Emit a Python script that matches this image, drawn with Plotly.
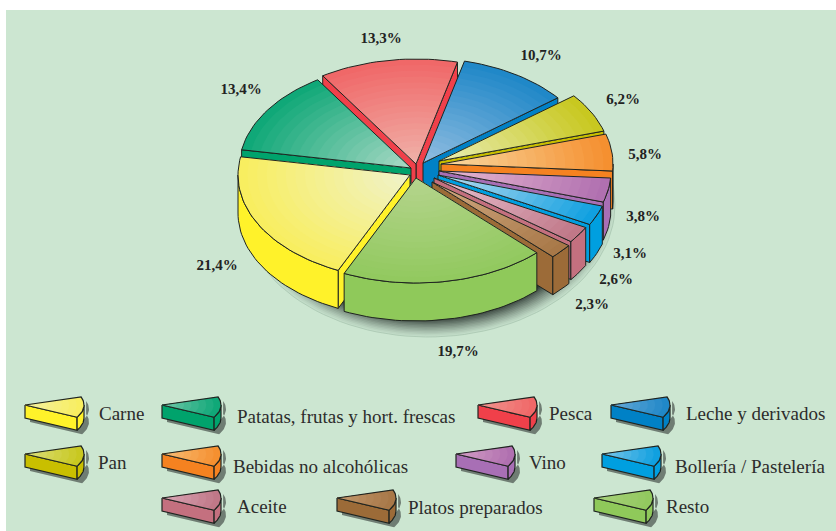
import math
import plotly.graph_objects as go

# ---- data (clockwise reading round the pie, starting at the left edge) ----
categories = ["Carne", "Resto", "Platos preparados", "Aceite", "Bollería / Pastelería", "Vino",
              "Bebidas no alcohólicas", "Pan", "Leche y derivados", "Pesca", "Patatas, frutas y hort. frescas"]
values = [21.4, 19.7, 2.3, 2.6, 3.1, 3.8, 5.8, 6.2, 10.7, 13.3, 13.4]

# ---- styles ----
side_colors = ["#fff22a", "#8fc95a", "#9c6b38", "#c4707f", "#009fe0", "#a86fb5",
               "#f58220", "#c9bf00", "#0081c6", "#f0404a", "#00a36c"]
rim_colors = ["#f8ee60", "#92c95f", "#a87848", "#c07888", "#10a0e0", "#b070b0",
              "#f59030", "#c8c820", "#2088c8", "#f06868", "#10a878"]
center_colors = ["#f0f2c8", "#b4d48c", "#d0a880", "#e8c0d0", "#b8dcf0", "#e8b8d0",
                 "#f8d8a0", "#e8ecb0", "#90bce0", "#f0b0a8", "#a8d8c4"]

# ---- layout constants (screen pixels) ----
W, H = 836, 531
BG = "#cce6d1"
RX, RY, DEPTH = 172, 105, 38
START_ANGLE = 190
apex_x = [410, 416, 432, 434, 438, 439, 441, 439, 423, 416, 411]
apex_y = [175, 178, 182, 178, 175, 171, 164, 161, 163, 164, 168]
paint_order = [9, 8, 10, 7, 6, 5, 4, 3, 2, 0, 1]
label_x = [217, 458, 592, 616, 630, 643, 645, 623, 541, 381, 241]
label_y = [266, 352, 305, 280, 254, 217, 155, 100, 56, 39, 90]
legend_pos = {  # swatch left, swatch apex y, text left, text y
    "Carne": (25, 405, 99, 415),
    "Patatas, frutas y hort. frescas": (162, 405, 237, 418),
    "Pesca": (478, 405, 549, 415),
    "Leche y derivados": (611, 405, 686, 415),
    "Pan": (25, 454, 98, 464),
    "Bebidas no alcohólicas": (162, 454, 233, 468),
    "Vino": (456, 454, 529, 464),
    "Bollería / Pastelería": (602, 454, 675, 468),
    "Aceite": (162, 498, 237, 508),
    "Platos preparados": (337, 498, 408, 509),
    "Resto": (594, 498, 666, 508),
}
OUTLINE = "#1f2420"


def rgb(h):
    return tuple(int(h[i:i + 2], 16) for i in (1, 3, 5))


def mix(a, b, t):
    ca, cb = rgb(a), rgb(b)
    return "rgb(%d,%d,%d)" % tuple(round(x + (y - x) * t) for x, y in zip(ca, cb))


fig = go.Figure()


def poly(xs, ys, fill=None, line=None, width=1.0):
    fig.add_trace(go.Scatter(
        x=list(xs) + [xs[0]], y=list(ys) + [ys[0]], mode="lines",
        fill="toself" if fill else "none", fillcolor=fill,
        line=dict(color=line or "rgba(0,0,0,0)", width=width if line else 0),
        hoverinfo="skip", showlegend=False))


def arc(cx, cy, rx, ry, a0, a1, n=None):
    n = n or max(2, int(abs(a0 - a1) / 2) + 2)
    angs = [math.radians(a0 + (a1 - a0) * i / (n - 1)) for i in range(n)]
    return [cx + rx * math.cos(a) for a in angs], [cy + ry * math.sin(a) for a in angs]


def wedge(cx, cy, rx, ry, depth, a0, a1, side, rim, center, steps, lw=1.0, pale=1.0):
    ax, ay = arc(cx, cy, rx, ry, a0, a1)
    # visible cut faces
    if math.cos(math.radians(a0)) > 0:
        poly([cx, ax[0], ax[0], cx], [cy, ay[0], ay[0] + depth, cy + depth], side, OUTLINE, lw)
    if math.cos(math.radians(a1)) < 0:
        poly([cx, ax[-1], ax[-1], cx], [cy, ay[-1], ay[-1] + depth, cy + depth], side, OUTLINE, lw)
    # outer wall (front half of the ellipse only)
    hi, lo = min(a0, 180), max(a1, 0)
    if hi > lo:
        sx, sy = arc(cx, cy, rx, ry, hi, lo)
        poly(sx + sx[::-1], sy + [y + depth for y in sy[::-1]], side, OUTLINE, lw)
    # top face, shaded from the rim to the apex by nested copies
    for i in range(steps):
        t = 1 - i / steps
        xs = [cx] + [cx + t * (x - cx) for x in ax]
        ys = [cy] + [cy + t * (y - cy) for y in ay]
        poly(xs, ys, mix(rim, center, pale * i / max(1, steps - 1)))
    poly([cx] + ax, [cy] + ay, None, OUTLINE, lw)


# soft shadow under the pie
shadow_steps = 14
for i in range(shadow_steps):
    s = 1 - 0.14 * i / (shadow_steps - 1)
    sx, sy = arc(428, 205, 187 * s, 132 * s, 0, 360, 120)
    poly(sx, sy, mix("#c2dcc8", "#2f3a34", (i / (shadow_steps - 1)) ** 1.2),
         "#a9c6b1" if i == 0 else None, 0.8)

# pie slices
total = sum(values)
angles = []
a = START_ANGLE
for v in values:
    angles.append((a, a - v / total * 360))
    a -= v / total * 360

for k in paint_order:
    wedge(apex_x[k], apex_y[k], RX, RY, DEPTH, angles[k][0], angles[k][1],
          side_colors[k], rim_colors[k], center_colors[k], 18)

# value labels
fig.add_trace(go.Scatter(
    x=label_x, y=label_y, mode="text",
    text=[("%.1f%%" % v).replace(".", ",") for v in values],
    textposition="middle center",
    textfont=dict(family="Liberation Serif", size=15, color="#222222", weight="bold"),
    hoverinfo="skip", showlegend=False))

# legend swatches and names
for k, name in enumerate(categories):
    left, top, tx, ty = legend_pos[name]
    sx, sy = arc(left + 5, top + 4, 59, 26, 28, -18)
    poly([left + 5] + sx + sx[::-1] + [left + 5],
         [top + 4] + sy + [y + 13 for y in sy[::-1]] + [top + 17], "#6f7d73")
    wedge(left, top, 59, 26, 13, 28, -18, side_colors[k], rim_colors[k], center_colors[k], 8, 1.2, 0.6)
    fig.add_trace(go.Scatter(
        x=[tx], y=[ty], mode="text", text=[name], textposition="middle right",
        textfont=dict(family="Liberation Serif", size=19, color="#2c2c2c"),
        hoverinfo="skip", showlegend=False))

fig.update_layout(
    width=W, height=H, margin=dict(l=0, r=0, t=0, b=0),
    paper_bgcolor="#ffffff", plot_bgcolor="#ffffff", showlegend=False,
    xaxis=dict(range=[0, W], visible=False, fixedrange=True),
    yaxis=dict(range=[H, 0], visible=False, fixedrange=True),
    shapes=[dict(type="rect", layer="below", x0=6, x1=W, y0=10, y1=H,
                 fillcolor=BG, line=dict(width=0))],
)
fig.write_html("out.html", config={"displayModeBar": False},
               post_script="document.body.style.margin='0';document.documentElement.style.overflow='hidden';")
